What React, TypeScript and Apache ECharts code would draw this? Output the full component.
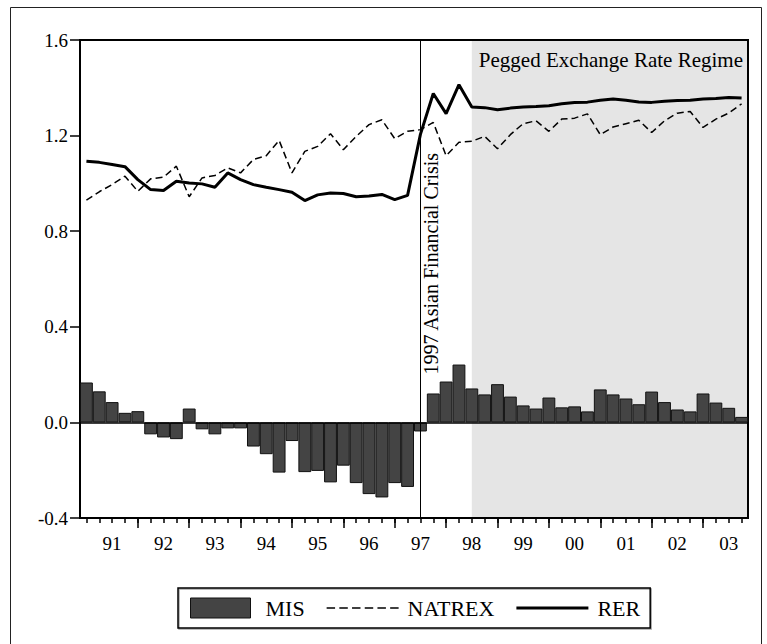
import React, { useEffect, useRef } from "react";
import * as echarts from "echarts";

const years = ["1991", "1992", "1993", "1994", "1995", "1996", "1997", "1998", "1999", "2000", "2001", "2002", "2003"];
const quarters = ["Q1", "Q2", "Q3", "Q4"];
const categories: string[] = [];
years.forEach((y) => quarters.forEach((q) => categories.push(y + q)));

const misValues = [
  0.167, 0.130, 0.085, 0.040, 0.047, -0.050, -0.063, -0.070, 0.058, -0.029, -0.050, -0.025, -0.025,
  -0.101, -0.133, -0.210, -0.078, -0.208, -0.203, -0.251, -0.181, -0.254, -0.300, -0.314, -0.254, -0.270,
  -0.038, 0.121, 0.171, 0.242, 0.142, 0.117, 0.160, 0.108, 0.071, 0.058, 0.104, 0.063, 0.067, 0.046,
  0.138, 0.117, 0.100, 0.076, 0.129, 0.085, 0.054, 0.046, 0.121, 0.083, 0.061, 0.023,
];

const natrexValues = [
  0.930, 0.965, 0.995, 1.030, 0.967, 1.019, 1.026, 1.072, 0.944, 1.023, 1.033, 1.065, 1.044,
  1.100, 1.116, 1.180, 1.044, 1.134, 1.155, 1.208, 1.141, 1.197, 1.246, 1.266, 1.187, 1.218,
  1.225, 1.255, 1.116, 1.172, 1.176, 1.197, 1.145, 1.204, 1.250, 1.262, 1.218, 1.269, 1.273, 1.291,
  1.204, 1.236, 1.250, 1.264, 1.213, 1.262, 1.294, 1.301, 1.234, 1.269, 1.294, 1.333,
];

const rerValues = [
  1.093, 1.088, 1.079, 1.070, 1.016, 0.974, 0.970, 1.009, 1.002, 0.998, 0.984, 1.044, 1.016,
  0.995, 0.984, 0.974, 0.963, 0.928, 0.952, 0.960, 0.958, 0.944, 0.947, 0.954, 0.932, 0.950,
  1.205, 1.376, 1.292, 1.413, 1.320, 1.317, 1.308, 1.315, 1.320, 1.322, 1.325, 1.333, 1.338, 1.340,
  1.348, 1.353, 1.348, 1.341, 1.339, 1.344, 1.347, 1.348, 1.353, 1.355, 1.359, 1.357,
];

const yTicks = { min: -0.4, max: 1.6, interval: 0.4 };
const crisisQuarter = "1997Q3";
const pegStartQuarter = "1998Q3";
const crisisLabel = "1997 Asian Financial Crisis";
const pegLabel = "Pegged Exchange Rate Regime";

const FONT = "Liberation Serif";

const ICON_BAR = "path://M0,0h60v20h-60z";
const ICON_DASH =
  "path://M0,0h8v1.6h-8z M12,0h8v1.6h-8z M24,0h8v1.6h-8z M36,0h8v1.6h-8z M48,0h8v1.6h-8z M60,0h8v1.6h-8z";
const ICON_SOLID = "path://M0,0h68v3h-68z";

export default function App() {
  const ref = useRef<HTMLDivElement>(null);

  useEffect(() => {
    if (!ref.current) return;
    const chart = echarts.init(ref.current, undefined, { renderer: "svg" });
    const option: any = {
      animation: false,
      backgroundColor: "#fff",
      textStyle: { fontFamily: FONT, color: "#000" },
      grid: {
        left: 80,
        top: 40,
        right: 19,
        bottom: 126,
        show: true,
        borderColor: "#000",
        borderWidth: 2,
        backgroundColor: "transparent",
      },
      legend: {
        left: 178,
        top: 588,
        orient: "horizontal",
        itemWidth: 72,
        itemHeight: 20,
        itemGap: 22,
        padding: [9, 10, 9, 12],
        borderColor: "#000",
        borderWidth: 1.5,
        shadowColor: "rgba(0,0,0,0.35)",
        shadowOffsetX: 1,
        shadowOffsetY: 1,
        symbolKeepAspect: true,
        textStyle: { fontFamily: FONT, fontSize: 22, color: "#000", padding: [0, 0, 0, 4] },
        data: [
          { name: "MIS", icon: ICON_BAR, itemStyle: { color: "#444444", borderColor: "#111", borderWidth: 1 } },
          { name: "NATREX", icon: ICON_DASH, itemStyle: { color: "#000", borderWidth: 0 } },
          { name: "RER", icon: ICON_SOLID, itemStyle: { color: "#000", borderWidth: 0 } },
        ],
      },
      xAxis: [
        {
          type: "category",
          data: categories,
          position: "bottom",
          boundaryGap: true,
          axisLine: { show: true, onZero: false, lineStyle: { color: "#000", width: 2 } },
          axisTick: {
            show: true,
            alignWithLabel: true,
            interval: 0,
            length: 5,
            lineStyle: { color: "#000", width: 1.5 },
          },
          axisLabel: {
            interval: (i: number) => i % 4 === 2,
            formatter: (v: string) => v.slice(2, 4),
            fontFamily: FONT,
            fontSize: 19,
            color: "#000",
            margin: 16,
          },
          splitLine: { show: false },
        },
        {
          type: "category",
          data: categories,
          position: "bottom",
          gridIndex: 0,
          boundaryGap: true,
          axisLine: { show: false, onZero: false },
          axisTick: {
            show: true,
            alignWithLabel: true,
            interval: (i: number) => i % 4 === 0 && i > 0,
            length: 10,
            lineStyle: { color: "#000", width: 1.5 },
          },
          axisLabel: { show: false },
          splitLine: { show: false },
        },
      ],
      yAxis: {
        type: "value",
        min: yTicks.min,
        max: yTicks.max,
        interval: yTicks.interval,
        axisLine: { show: true, lineStyle: { color: "#000", width: 2 } },
        axisTick: { show: true, length: 10, lineStyle: { color: "#000", width: 1.5 } },
        axisLabel: {
          formatter: (v: number) => v.toFixed(1),
          fontFamily: FONT,
          fontSize: 19,
          color: "#000",
          margin: 12,
        },
        splitLine: { show: false },
      },
      series: [
        {
          name: "MIS",
          type: "bar",
          data: misValues,
          barWidth: "100%",
          barCategoryGap: 0,
          itemStyle: { color: "#444444", borderColor: "#111", borderWidth: 1 },
          z: 2,
          markLine: {
            silent: true,
            symbol: "none",
            label: { show: false },
            lineStyle: { color: "#000", width: 1.5, type: "solid" },
            data: [{ yAxis: 0 }],
            z: 5,
          },
        },
        {
          name: "NATREX",
          type: "line",
          data: natrexValues,
          symbol: "none",
          itemStyle: { color: "#000" },
          lineStyle: { color: "#000", width: 1.5, type: [7, 4] },
          z: 4,
          markLine: {
            silent: true,
            symbol: "none",
            label: { show: false },
            lineStyle: { color: "#000", width: 1, type: "solid" },
            data: [{ xAxis: crisisQuarter }],
          },
        },
        {
          name: "RER",
          type: "line",
          data: rerValues,
          symbol: "none",
          itemStyle: { color: "#000" },
          lineStyle: { color: "#000", width: 3 },
          z: 5,
        },
      ],
    };
    chart.setOption(option);

    const xOf = (c: string) => chart.convertToPixel({ xAxisIndex: 0 }, c) as number;
    const yOf = (v: number) => chart.convertToPixel({ yAxisIndex: 0 }, v) as number;
    const band = xOf(categories[1]) - xOf(categories[0]);
    const right = xOf(categories[categories.length - 1]) + band / 2;
    const top = yOf(yTicks.max);
    const bottom = yOf(yTicks.min);
    const xPeg = xOf(pegStartQuarter);
    const xCrisis = xOf(crisisQuarter);

    chart.setOption({
      graphic: [
        {
          type: "rect",
          z: -10,
          silent: true,
          shape: { x: 10.5, y: 7.5, width: 751, height: 660 },
          style: { fill: "none", stroke: "#222", lineWidth: 1 },
        },
        {
          type: "rect",
          z: -5,
          silent: true,
          shape: { x: xPeg, y: top + 1, width: right - xPeg - 1, height: bottom - top - 2 },
          style: { fill: "#e5e5e5" },
        },
        {
          type: "text",
          z: 10,
          x: right - 5,
          y: top + 20,
          style: {
            text: pegLabel,
            fontFamily: FONT,
            fontSize: 21,
            fill: "#000",
            align: "right",
            verticalAlign: "middle",
          },
        },
        {
          type: "text",
          z: 10,
          x: xCrisis + 1,
          y: yOf(0.2),
          rotation: Math.PI / 2,
          style: {
            text: crisisLabel,
            fontFamily: FONT,
            fontSize: 20,
            fill: "#000",
            align: "left",
            verticalAlign: "top",
          },
        },
      ],
    });

    return () => chart.dispose();
  }, []);

  return (
    <div
      ref={ref}
      style={{ position: "absolute", left: 0, top: 0, width: 767, height: 644 }}
    />
  );
}
